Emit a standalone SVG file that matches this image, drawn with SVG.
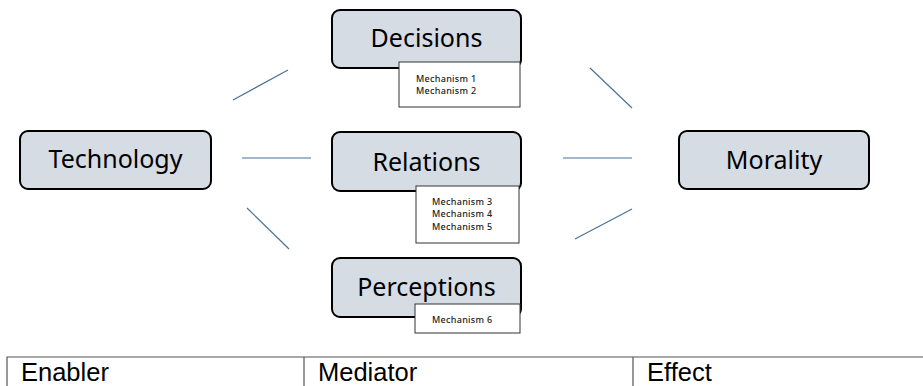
<svg xmlns="http://www.w3.org/2000/svg" width="923" height="386" viewBox="0 0 923 386">
<style>
.node{fill:#D6DCE4;stroke:#000;stroke-width:2}
.lbl{font-family:"Noto Sans","DejaVu Sans",sans-serif;font-size:25px;fill:#000;text-anchor:middle}
.mech{fill:#fff;stroke:#333;stroke-width:1}
.mt{font-family:"Noto Sans","DejaVu Sans",sans-serif;font-size:9px;font-weight:500;letter-spacing:0.3px;fill:#222}
.conn{stroke:#4A7397;stroke-width:1.2;fill:none}
.tb{fill:none;stroke:#555;stroke-width:1.2}
.tt{font-family:"Liberation Sans",Arial,sans-serif;font-size:25.5px;fill:#000}
</style>
<rect width="923" height="386" fill="#fff"/>
<g id="connectors">
<line class="conn" x1="233" y1="100" x2="288" y2="70"/>
<line class="conn" x1="242" y1="158" x2="311" y2="158"/>
<line class="conn" x1="247" y1="208" x2="289" y2="249"/>
<line class="conn" x1="590" y1="68" x2="632" y2="108"/>
<line class="conn" x1="563" y1="158" x2="632" y2="158"/>
<line class="conn" x1="632" y1="209" x2="575" y2="239"/>
</g>
<g id="technology">
<rect class="node" x="20" y="131" width="191" height="58" rx="8"/>
<text class="lbl" x="115.5" y="168">Technology</text>
</g>
<g id="decisions">
<rect class="node" x="332" y="10" width="189" height="58" rx="8"/>
<text class="lbl" x="426.5" y="47">Decisions</text>
</g>
<g id="mech12">
<rect class="mech" x="399" y="62" width="121" height="45"/>
<text class="mt" x="416" y="81.5">Mechanism 1</text>
<text class="mt" x="416" y="94">Mechanism 2</text>
</g>
<g id="relations">
<rect class="node" x="332" y="132" width="189" height="59" rx="8"/>
<text class="lbl" x="426.5" y="171">Relations</text>
</g>
<g id="mech345">
<rect class="mech" x="416" y="186" width="103" height="57"/>
<text class="mt" x="432" y="204.5">Mechanism 3</text>
<text class="mt" x="432" y="217">Mechanism 4</text>
<text class="mt" x="432" y="229.5">Mechanism 5</text>
</g>
<g id="perceptions">
<rect class="node" x="332" y="258" width="189" height="59" rx="8"/>
<text class="lbl" x="426.5" y="296">Perceptions</text>
</g>
<g id="mech6">
<rect class="mech" x="415" y="304" width="105" height="29"/>
<text class="mt" x="432" y="323">Mechanism 6</text>
</g>
<g id="morality">
<rect class="node" x="679" y="131" width="190" height="58" rx="8"/>
<text class="lbl" x="774" y="169">Morality</text>
</g>
<g id="table">
<path class="tb" d="M7,390 V357 H930 M304,357 V390 M633,357 V390"/>
<text class="tt" x="21" y="381">Enabler</text>
<text class="tt" x="318" y="381">Mediator</text>
<text class="tt" x="647" y="381">Effect</text>
</g>
</svg>
